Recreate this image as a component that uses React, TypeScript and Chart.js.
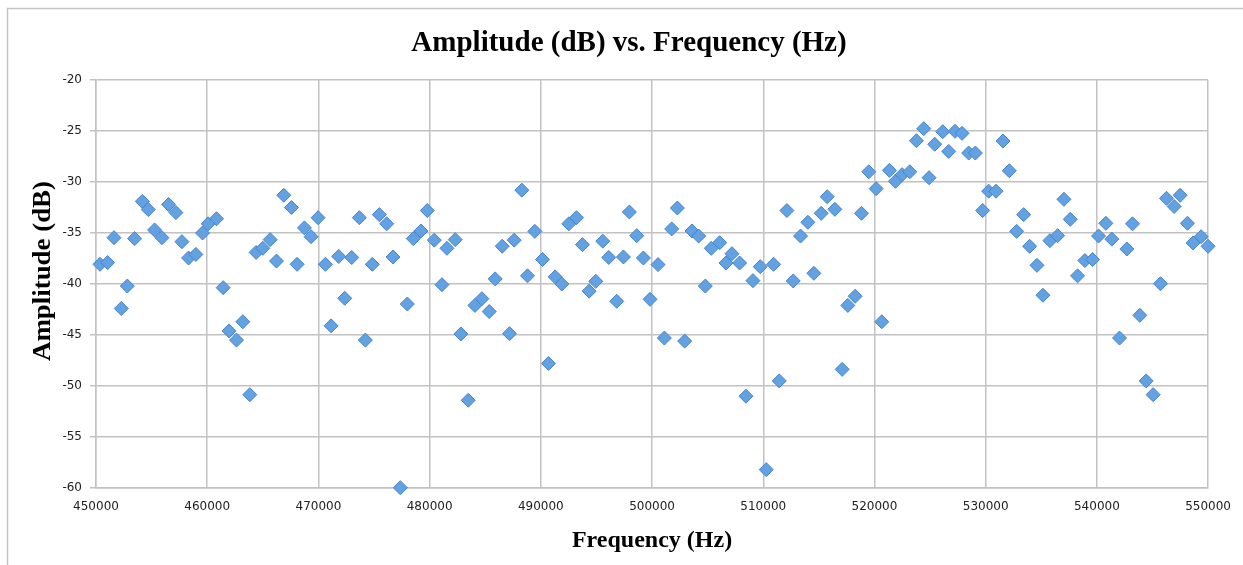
import React, { useEffect, useRef } from "react";
import { Chart, registerables } from "chart.js";

Chart.register(...registerables);

const chartTitle = "Amplitude (dB) vs. Frequency (Hz)";
const xAxisTitle = "Frequency (Hz)";
const yAxisTitle = "Amplitude (dB)";

const xTickMin = 450000;
const xTickMax = 550000;
const xTickStep = 10000;
const yTickMin = -60;
const yTickMax = -20;
const yTickStep = 5;

const freqHz = [
  450359, 451048, 451617, 452275, 452814, 453473, 454162, 454700, 455269, 455928,
  456527, 457186, 457725, 458324, 458982, 459581, 460090, 460838, 461437, 461960,
  462635, 463204, 463832, 464401, 465000, 465659, 466228, 466886, 467575, 468084,
  468743, 469341, 469970, 470629, 471138, 471826, 472365, 472994, 473683, 474222,
  474850, 475479, 476138, 476707, 477365, 477994, 478533, 479222, 479790, 480419,
  481108, 481557, 482305, 482814, 483473, 484072, 484700, 485359, 485898, 486527,
  487186, 487605, 488293, 488802, 489461, 490150, 490689, 491287, 491886, 492515,
  493204, 493743, 494341, 494940, 495569, 496108, 496826, 497425, 497964, 498623,
  499222, 499820, 500539, 501108, 501766, 502275, 502934, 503593, 504192, 504790,
  505329, 506078, 506647, 507186, 507874, 508443, 509072, 509731, 510269, 510928,
  511437, 512126, 512695, 513353, 514012, 514551, 515210, 515749, 516437, 517096,
  517605, 518263, 518832, 519491, 520150, 520659, 521347, 521886, 522485, 523174,
  523772, 524431, 524910, 525419, 526138, 526677, 527245, 527874, 528473, 529072,
  529731, 530269, 530928, 531557, 532126, 532784, 533413, 533952, 534611, 535150,
  535778, 536467, 537036, 537605, 538263, 538922, 539611, 540150, 540808, 541347,
  542036, 542695, 543204, 543862, 544431, 545060, 545719, 546258, 546946, 547485,
  548144, 548653, 549371, 550000,
];

const amplitudeDb = [
  -38.07, -37.9, -35.46, -42.4, -40.2, -35.55, -31.9, -32.7, -34.7, -35.46,
  -32.2, -33.0, -35.85, -37.45, -37.1, -35.0, -34.1, -33.6, -40.36, -44.6,
  -45.5, -43.7, -50.85, -36.9, -36.5, -35.65, -37.75, -31.3, -32.5, -38.07,
  -34.5, -35.36, -33.5, -38.07, -44.1, -37.3, -41.4, -37.4, -33.5, -45.5,
  -38.07, -33.2, -34.1, -37.35, -59.97, -41.96, -35.55, -34.8, -32.8, -35.7,
  -40.07, -36.5, -35.65, -44.9, -51.4, -42.1, -41.44, -42.7, -39.5, -36.3,
  -44.87, -35.7, -30.8, -39.2, -34.84, -37.6, -47.8, -39.3, -40.0, -34.1,
  -33.5, -36.14, -40.7, -39.74, -35.8, -37.4, -41.7, -37.35, -32.94, -35.26,
  -37.45, -41.5, -38.1, -45.3, -34.6, -32.55, -45.6, -34.8, -35.3, -40.2,
  -36.5, -35.95, -37.94, -37.03, -37.94, -51.0, -39.67, -38.3, -58.2, -38.07,
  -49.5, -32.8, -39.7, -35.3, -33.95, -38.95, -33.07, -31.44, -32.68, -48.37,
  -42.1, -41.2, -33.07, -29.0, -30.65, -43.7, -28.86, -29.93, -29.28, -29.0,
  -25.95, -24.77, -29.58, -26.3, -25.07, -27.0, -25.03, -25.23, -27.16, -27.16,
  -32.8, -30.9, -30.9, -25.98, -28.9, -34.84, -33.2, -36.3, -38.17, -41.1,
  -35.75, -35.26, -31.7, -33.66, -39.2, -37.7, -37.6, -35.3, -34.05, -35.6,
  -45.3, -36.57, -34.1, -43.07, -49.5, -50.85, -39.97, -31.6, -32.4, -31.3,
  -34.05, -35.98, -35.36, -36.3,
];

const W = 1243;
const H = 565;
const serif = "'Liberation Serif', 'Times New Roman', serif";

const framePlugin = {
  id: "frameAndTitle",
  beforeDraw(chart: any) {
    const ctx = chart.ctx;
    ctx.save();
    ctx.fillStyle = "#ffffff";
    ctx.fillRect(0, 0, chart.width, chart.height);
    ctx.strokeStyle = "#c4c4c4";
    ctx.lineWidth = 1.5;
    ctx.beginPath();
    ctx.moveTo(7.5, chart.height);
    ctx.lineTo(7.5, 8.5);
    ctx.lineTo(chart.width, 8.5);
    ctx.stroke();
    ctx.restore();
  },
  afterDraw(chart: any) {
    const ctx = chart.ctx;
    ctx.save();
    ctx.fillStyle = "#000000";
    ctx.font = `bold 29px ${serif}`;
    ctx.textAlign = "center";
    ctx.textBaseline = "middle";
    ctx.fillText(chartTitle, 629, 44);
    ctx.restore();

    // vertical axis title
    ctx.save();
    ctx.fillStyle = "#000000";
    ctx.font = `bold 25px ${serif}`;
    ctx.textAlign = "center";
    ctx.textBaseline = "middle";
    const w = ctx.measureText(yAxisTitle).width;
    const stretch = 180 / w;
    ctx.translate(44, 271);
    ctx.rotate(-Math.PI / 2);
    ctx.scale(stretch, 1);
    ctx.fillText(yAxisTitle, 0, 0);
    ctx.restore();
  },
};

export default function App() {
  const ref = useRef<HTMLCanvasElement | null>(null);

  useEffect(() => {
    if (!ref.current) return;
    const points = freqHz.map((f, i) => ({ x: f, y: amplitudeDb[i] }));
    const tickFont = { family: "'DejaVu Sans', sans-serif", size: 12 };
    const axisTitleFont = { family: serif, size: 24, weight: "bold" as const };
    const chart = new Chart(ref.current, {
      type: "scatter",
      data: {
        datasets: [
          {
            label: "Amplitude",
            data: points,
            pointStyle: "rectRot",
            pointRadius: 7,
            pointHoverRadius: 7,
            backgroundColor: "#62a1e2",
            borderColor: "#4a84c6",
            borderWidth: 1,
            clip: false,
          },
        ],
      },
      options: {
        animation: false,
        responsive: false,
        maintainAspectRatio: false,
        devicePixelRatio: 1,
        layout: { padding: { left: 0, right: 32, top: 80, bottom: 0 } },
        plugins: {
          legend: { display: false },
          tooltip: { enabled: false },
          title: { display: false },
        },
        scales: {
          x: {
            type: "linear",
            min: xTickMin,
            max: xTickMax,
            afterFit: (scale: any) => {
              scale.height = 77;
            },
            ticks: {
              stepSize: xTickStep,
              font: tickFont,
              color: "#222222",
              padding: 12,
              maxRotation: 0,
              autoSkip: false,
              callback: (v: any) => String(v),
            },
            grid: {
              color: "#c2c2c2",
              lineWidth: 1.5,
              drawTicks: false,
            },
            border: { color: "#c2c2c2", width: 1.5 },
            title: {
              display: true,
              text: xAxisTitle,
              font: axisTitleFont,
              color: "#000000",
              padding: { top: 0, bottom: 10 },
            },
          },
          y: {
            type: "linear",
            min: yTickMin,
            max: yTickMax,
            afterFit: (scale: any) => {
              scale.width = 96;
            },
            ticks: {
              stepSize: yTickStep,
              font: tickFont,
              color: "#222222",
              padding: 8,
            },
            grid: {
              color: "#c2c2c2",
              lineWidth: 1.5,
              drawTicks: true,
              tickLength: 6,
            },
            border: { color: "#c2c2c2", width: 1.5 },
            title: { display: false, text: yAxisTitle },
          },
        },
      },
      plugins: [framePlugin],
    });
    return () => chart.destroy();
  }, []);

  return (
    <div style={{ position: "fixed", left: 0, top: 0, width: W, height: H, overflow: "hidden", background: "#fff" }}>
      <canvas ref={ref} width={W} height={H} style={{ display: "block", width: W, height: H }} />
    </div>
  );
}
